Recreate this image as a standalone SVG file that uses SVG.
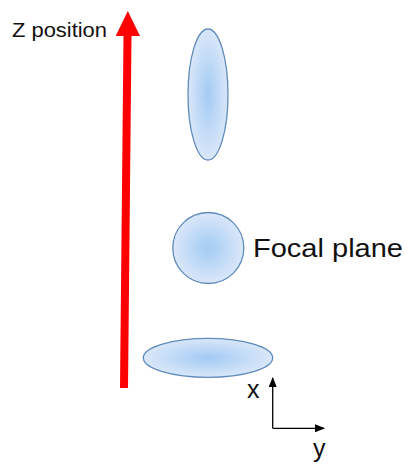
<svg xmlns="http://www.w3.org/2000/svg" width="407" height="464" viewBox="0 0 407 464">
<defs>
<radialGradient id="blob" cx="50%" cy="50%" r="50%">
<stop offset="0" stop-color="#a3cbf4"/>
<stop offset="1" stop-color="#dae7f9"/>
</radialGradient>
<marker id="ah" markerWidth="10" markerHeight="8" refX="9" refY="4" orient="auto" markerUnits="userSpaceOnUse">
<path d="M0,0 L10,4 L0,8 Z" fill="#000"/>
</marker>
<style>
.blob{fill:url(#blob);stroke:#5f8bbd;stroke-width:1.3}
.lbl{font-family:"Liberation Sans",Arial,sans-serif;fill:#111}
.ax{stroke:#000;stroke-width:1.3;fill:none;marker-end:url(#ah)}
</style>
</defs>
<rect width="407" height="464" fill="#fff"/>
<g id="connectors">
<polygon points="120,388 128,388 131.5,36 123.5,36" fill="#ff0000"/>
<polygon points="115.7,36 140,36 127.8,11" fill="#ff0000"/>
<line class="ax" x1="272.7" y1="428.3" x2="272.7" y2="378"/>
<line class="ax" x1="272.7" y1="428.3" x2="324" y2="428.3"/>
</g>
<g id="z-label"><text class="lbl" x="12" y="37.3" font-size="20" textLength="95" lengthAdjust="spacingAndGlyphs">Z position</text></g>
<g id="spot-top"><ellipse class="blob" cx="208" cy="94.5" rx="20" ry="65.5"/></g>
<g id="spot-focal"><circle class="blob" cx="208.3" cy="248" r="35.5"/></g>
<g id="focal-label"><text class="lbl" x="253" y="257" font-size="26.5" textLength="150" lengthAdjust="spacingAndGlyphs">Focal plane</text></g>
<g id="spot-bottom"><ellipse class="blob" cx="208" cy="357.8" rx="64.7" ry="19.5"/></g>
<g id="x-label"><text class="lbl" x="247" y="398.3" font-size="25">x</text></g>
<g id="y-label"><text class="lbl" x="313" y="456.5" font-size="25">y</text></g>
</svg>
